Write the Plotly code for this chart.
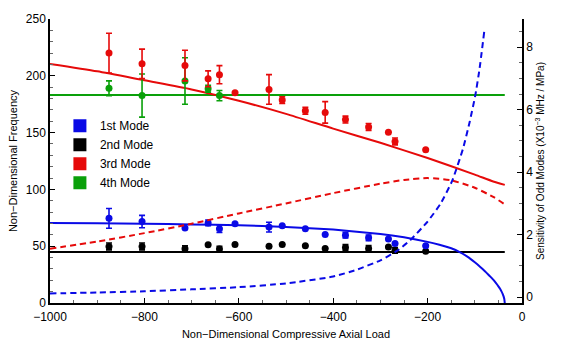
import plotly.graph_objects as go

# ---------------- data ----------------
# 1st mode measurements
m1_x = [-875, -805, -714, -665, -641, -608, -536, -508, -459, -417, -374, -325, -283, -269, -204]
m1_y = [74.5, 71.7, 66.0, 70.5, 65.4, 69.7, 66.8, 68.0, 65.4, 60.2, 59.7, 57.4, 56.3, 52.3, 50.3]
m1_e = [8.7, 5.4, 0, 2.5, 3.3, 0, 4.3, 0, 0, 0, 2.5, 2.5, 0, 0, 0]

# 2nd mode measurements
m2_x = [-875, -805, -714, -665, -641, -608, -536, -508, -459, -417, -374, -325, -283, -269, -204]
m2_y = [49.8, 49.8, 47.8, 51.2, 47.5, 51.5, 50.0, 51.5, 50.3, 48.0, 48.9, 48.0, 49.2, 46.3, 45.5]
m2_e = [3.0, 3.0, 2.5, 0, 2.5, 0, 0, 0, 0, 0, 2.5, 2.5, 0, 2.5, 0]

# 3rd mode measurements
m3_x = [-875, -805, -714, -665, -641, -608, -536, -508, -459, -417, -374, -325, -283, -269, -204]
m3_y = [220.0, 210.5, 209.0, 197.3, 201.0, 185.0, 188.0, 178.6, 169.2, 167.8, 161.5, 155.0, 150.4, 142.2, 134.8]
m3_e = [17.5, 13.0, 13.5, 7.0, 8.0, 0, 13.0, 3.0, 3.0, 9.5, 3.0, 3.0, 0, 3.0, 0]

# 4th mode measurements
m4_x = [-875, -805, -714, -665, -641]
m4_y = [189.0, 182.6, 195.4, 188.6, 182.6]
m4_e = [6.5, 19.0, 20.5, 3.0, 4.5]

# theory curves (left axis)
t1_x = [-1000, -900, -800, -700, -600, -500, -400, -300, -250, -200, -175, -150, -131,
        -115, -100, -89, -78, -68, -61, -55, -50, -46.5, -43.5, -41, -39, -37.5, -36.5]
t1_y = [70.5, 70.2, 69.8, 69.2, 68.5, 67.0, 64.6, 60.8, 57.8, 53.8, 51.2, 48.2, 44.6,
        40.6, 35.8, 32.0, 27.8, 23.6, 20.5, 17.4, 14.6, 12.5, 10.2, 8.0, 5.8, 3.5, 0]

t2_x = [-1000, -36.5]
t2_y = [45.0, 45.0]

t3_x = [-1000, -900, -800, -700, -600, -500, -400, -300, -200, -100, -61, -36.5]
t3_y = [210.5, 204.0, 196.0, 188.0, 178.0, 166.5, 153.5, 141.0, 127.6, 113.0, 107.0, 104.0]

t4_x = [-1000, -36.5]
t4_y = [183.0, 183.0]

# sensitivity curves (right axis)
s1_x = [-1000, -900, -800, -700, -600, -500, -400, -350, -300, -265, -237, -200, -173,
        -148, -125, -111, -99, -90, -80]
s1_y = [0.12, 0.15, 0.19, 0.25, 0.32, 0.44, 0.66, 0.88, 1.18, 1.48, 1.82, 2.42, 2.98,
        3.72, 4.75, 5.6, 6.45, 7.3, 8.5]

s3_x = [-1000, -900, -800, -700, -600, -500, -400, -300, -250, -200, -150, -100, -60, -36.5]
s3_y = [1.55, 1.78, 2.05, 2.35, 2.68, 3.00, 3.33, 3.63, 3.75, 3.81, 3.74, 3.50, 3.20, 2.97]

mode_names = ["1st Mode", "2nd Mode", "3rd Mode", "4th Mode"]
colors = ["#0a0ae6", "#000000", "#e60a0a", "#0aa00a"]

# ---------------- figure ----------------
fig = go.Figure()

def theory(x, y, c, dash=None, yaxis="y", smoothing=0.6):
    fig.add_trace(go.Scatter(x=x, y=y, mode="lines", yaxis=yaxis, showlegend=False,
                             line=dict(color=c, width=2, dash=dash, shape="spline",
                                       smoothing=smoothing),
                             hoverinfo="skip"))

theory(t4_x, t4_y, colors[3])
theory(t2_x, t2_y, colors[1])
theory(t3_x, t3_y, colors[2])
theory(t1_x, t1_y, colors[0], smoothing=0.3)
theory(s3_x, s3_y, colors[2], dash="6px,4px", yaxis="y2")
theory(s1_x, s1_y, colors[0], dash="6px,4px", yaxis="y2", smoothing=0.5)

for (x, y, e, c) in [(m2_x, m2_y, m2_e, colors[1]), (m1_x, m1_y, m1_e, colors[0]),
                     (m4_x, m4_y, m4_e, colors[3]), (m3_x, m3_y, m3_e, colors[2])]:
    fig.add_trace(go.Scatter(x=x, y=y, mode="markers", showlegend=False,
                             marker=dict(color=c, size=7, symbol="circle"),
                             error_y=dict(type="data", array=e, visible=True, color=c,
                                          thickness=1.6, width=3)))

for name, c in zip(mode_names, colors):
    fig.add_trace(go.Scatter(x=[None], y=[None], mode="markers", name=name,
                             marker=dict(symbol="square", size=13, color=c)))

font = "Liberation Sans, Arial, sans-serif"
fig.update_layout(
    width=567, height=351,
    margin=dict(l=49, r=45, t=12, b=46),
    paper_bgcolor="white", plot_bgcolor="white",
    font=dict(family=font, size=11, color="black"),
    showlegend=True,
    legend=dict(x=0.021, y=0.675, xanchor="left", yanchor="top",
                bgcolor="rgba(0,0,0,0)", font=dict(size=12), tracegroupgap=0,
                itemwidth=30),
    xaxis=dict(range=[-1000, 0], tickvals=[-1000, -800, -600, -400, -200, 0],
               showgrid=False, zeroline=False, showline=True, linecolor="black", linewidth=1.5,
               ticks="inside", ticklen=5, tickcolor="black", ticklabelstandoff=2,
               minor=dict(dtick=50, ticks="inside", ticklen=3, tickcolor="#666"),
               tickfont=dict(size=12),
               title=dict(text="Non−Dimensional Compressive Axial Load", font=dict(size=11), standoff=7)),
    yaxis=dict(range=[0, 250], tickvals=[0, 50, 100, 150, 200, 250],
               showgrid=False, zeroline=False, showline=True, linecolor="black", linewidth=1.5,
               ticks="inside", ticklen=5, tickcolor="black",
               minor=dict(dtick=10, ticks="inside", ticklen=3, tickcolor="#666"),
               tickfont=dict(size=12),
               title=dict(text="Non−Dimensional Frequency", font=dict(size=11), standoff=6)),
    yaxis2=dict(range=[-0.186, 8.9], tickvals=[0, 2, 4, 6, 8], overlaying="y", side="right",
                showgrid=False, zeroline=False, showline=True, linecolor="black", linewidth=1.5,
                ticks="inside", ticklen=5, tickcolor="black",
                minor=dict(dtick=0.5, ticks="inside", ticklen=3, tickcolor="#666"),
                tickfont=dict(size=12),
                title=dict(text="Sensitivity of Odd Modes (X10<sup>−3</sup> MHz / MPa)",
                           font=dict(size=10), standoff=5)),
)

fig.write_html("out.html")
